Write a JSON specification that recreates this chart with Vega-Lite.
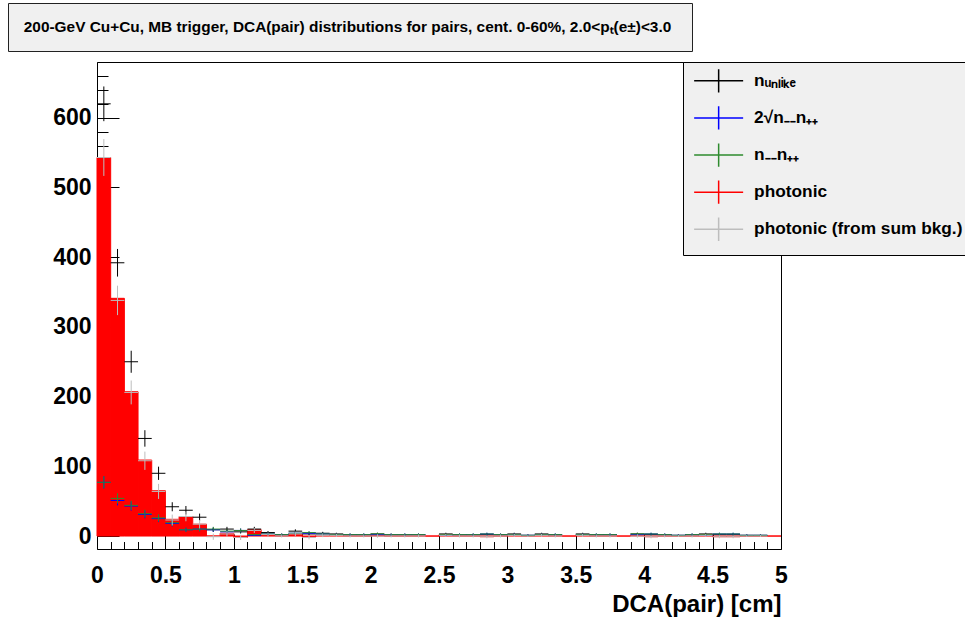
{
  "$schema": "https://vega.github.io/schema/vega-lite/v6.json",
  "width": 684,
  "height": 487,
  "autosize": {"type": "none"},
  "padding": {"left": 97, "top": 62, "right": 184, "bottom": 69},
  "background": "white",
  "config": {"view": {"stroke": "#000", "strokeWidth": 1}, "font": "Liberation Sans"},
  "datasets": {
    "photo": [
      {"x":0.05,"v":543},{"x":0.15,"v":341},{"x":0.25,"v":207},{"x":0.35,"v":109},{"x":0.45,"v":65},
      {"x":0.55,"v":24},{"x":0.65,"v":28},{"x":0.75,"v":17},{"x":0.85,"v":0},{"x":0.95,"v":4},
      {"x":1.05,"v":-2},{"x":1.15,"v":9},{"x":1.25,"v":2},{"x":1.35,"v":0},{"x":1.45,"v":3},
      {"x":1.55,"v":-1},{"x":1.65,"v":1},{"x":1.75,"v":1},{"x":1.85,"v":0},{"x":1.95,"v":0},
      {"x":2.05,"v":1},{"x":2.15,"v":0},{"x":2.25,"v":0},{"x":2.35,"v":0},{"x":2.45,"v":0},
      {"x":2.55,"v":2},{"x":2.65,"v":0},{"x":2.75,"v":0},{"x":2.85,"v":-1},{"x":2.95,"v":0},
      {"x":3.05,"v":1},{"x":3.15,"v":0},{"x":3.25,"v":1},{"x":3.35,"v":0},{"x":3.45,"v":0},
      {"x":3.55,"v":1},{"x":3.65,"v":0},{"x":3.75,"v":0},{"x":3.85,"v":0},{"x":3.95,"v":1},
      {"x":4.05,"v":-1},{"x":4.15,"v":0},{"x":4.25,"v":0},{"x":4.35,"v":0},{"x":4.45,"v":2},
      {"x":4.55,"v":-1},{"x":4.65,"v":-1},{"x":4.75,"v":0},{"x":4.85,"v":0},{"x":4.95,"v":0}
    ],
    "cross": [
      {"s":"U","x":0.05,"v":620,"e":24.9},{"s":"U","x":0.15,"v":392,"e":19.8},{"s":"U","x":0.25,"v":250,"e":15.8},
      {"s":"U","x":0.35,"v":140,"e":11.8},{"s":"U","x":0.45,"v":90,"e":9.5},{"s":"U","x":0.55,"v":42,"e":6.5},
      {"s":"U","x":0.65,"v":37,"e":6.1},{"s":"U","x":0.75,"v":27,"e":5.2},{"s":"U","x":0.85,"v":9,"e":3},
      {"s":"U","x":0.95,"v":10,"e":3.2},{"s":"U","x":1.05,"v":6,"e":2.4},{"s":"U","x":1.15,"v":10,"e":3.2},
      {"s":"U","x":1.25,"v":5,"e":2.2},{"s":"U","x":1.35,"v":2,"e":1.4},{"s":"U","x":1.45,"v":7,"e":2.6},
      {"s":"U","x":1.55,"v":3,"e":1.7},{"s":"U","x":1.65,"v":4,"e":2},{"s":"U","x":1.75,"v":3,"e":1.7},
      {"s":"U","x":1.85,"v":2,"e":1.4},{"s":"U","x":1.95,"v":2,"e":1.4},{"s":"U","x":2.05,"v":3,"e":1.7},
      {"s":"U","x":2.15,"v":2,"e":1.4},{"s":"U","x":2.25,"v":2,"e":1.4},{"s":"U","x":2.35,"v":2,"e":1.4},
      {"s":"U","x":2.55,"v":3,"e":1.7},{"s":"U","x":2.65,"v":2,"e":1.4},{"s":"U","x":2.75,"v":2,"e":1.4},
      {"s":"U","x":2.85,"v":2,"e":1.4},{"s":"U","x":2.95,"v":2,"e":1.4},{"s":"U","x":3.05,"v":3,"e":1.7},
      {"s":"U","x":3.15,"v":1,"e":1},{"s":"U","x":3.25,"v":3,"e":1.7},{"s":"U","x":3.35,"v":2,"e":1.4},
      {"s":"U","x":3.55,"v":3,"e":1.7},{"s":"U","x":3.65,"v":2,"e":1.4},{"s":"U","x":3.75,"v":2,"e":1.4},
      {"s":"U","x":3.95,"v":3,"e":1.7},{"s":"U","x":4.05,"v":2,"e":1.4},{"s":"U","x":4.15,"v":2,"e":1.4},
      {"s":"U","x":4.25,"v":1,"e":1},{"s":"U","x":4.35,"v":2,"e":1.4},{"s":"U","x":4.45,"v":3,"e":1.7},
      {"s":"U","x":4.55,"v":2,"e":1.4},{"s":"U","x":4.65,"v":2,"e":1.4},{"s":"U","x":4.75,"v":1,"e":1},
      {"s":"U","x":4.85,"v":1,"e":1},

      {"s":"B","x":0.05,"v":77,"e":8.8},{"s":"B","x":0.15,"v":51,"e":7.1},{"s":"B","x":0.25,"v":43,"e":6.6},
      {"s":"B","x":0.35,"v":31,"e":5.6},{"s":"B","x":0.45,"v":25,"e":5},{"s":"B","x":0.55,"v":18,"e":4.2},
      {"s":"B","x":0.65,"v":9,"e":3},{"s":"B","x":0.75,"v":10,"e":3.2},{"s":"B","x":0.85,"v":9,"e":3},
      {"s":"B","x":0.95,"v":6,"e":2.4},{"s":"B","x":1.05,"v":8,"e":2.8},{"s":"B","x":1.15,"v":1,"e":1},
      {"s":"B","x":1.25,"v":3,"e":1.7},{"s":"B","x":1.35,"v":2,"e":1.4},{"s":"B","x":1.45,"v":4,"e":2},
      {"s":"B","x":1.55,"v":4,"e":2},{"s":"B","x":1.65,"v":3,"e":1.7},{"s":"B","x":1.75,"v":2,"e":1.4},
      {"s":"B","x":1.85,"v":2,"e":1.4},{"s":"B","x":1.95,"v":2,"e":1.4},{"s":"B","x":2.05,"v":2,"e":1.4},
      {"s":"B","x":2.15,"v":2,"e":1.4},{"s":"B","x":2.25,"v":2,"e":1.4},{"s":"B","x":2.35,"v":2,"e":1.4},
      {"s":"B","x":2.55,"v":1,"e":1},{"s":"B","x":2.65,"v":2,"e":1.4},{"s":"B","x":2.75,"v":2,"e":1.4},
      {"s":"B","x":2.85,"v":3,"e":1.7},{"s":"B","x":2.95,"v":2,"e":1.4},{"s":"B","x":3.05,"v":2,"e":1.4},
      {"s":"B","x":3.15,"v":1,"e":1},{"s":"B","x":3.25,"v":2,"e":1.4},{"s":"B","x":3.35,"v":2,"e":1.4},
      {"s":"B","x":3.55,"v":2,"e":1.4},{"s":"B","x":3.65,"v":2,"e":1.4},{"s":"B","x":3.75,"v":2,"e":1.4},
      {"s":"B","x":3.95,"v":2,"e":1.4},{"s":"B","x":4.05,"v":3,"e":1.7},{"s":"B","x":4.15,"v":2,"e":1.4},
      {"s":"B","x":4.25,"v":1,"e":1},{"s":"B","x":4.35,"v":2,"e":1.4},{"s":"B","x":4.45,"v":1,"e":1},
      {"s":"B","x":4.55,"v":3,"e":1.7},{"s":"B","x":4.65,"v":3,"e":1.7},{"s":"B","x":4.75,"v":1,"e":1},
      {"s":"B","x":4.85,"v":1,"e":1},

      {"s":"G","x":0.05,"v":77,"e":8.8},{"s":"G","x":0.15,"v":54,"e":7.3},{"s":"G","x":0.25,"v":44,"e":6.6},
      {"s":"G","x":0.35,"v":32,"e":5.7},{"s":"G","x":0.45,"v":26,"e":5.1},{"s":"G","x":0.55,"v":19,"e":4.4},
      {"s":"G","x":0.65,"v":9,"e":3},{"s":"G","x":0.75,"v":10,"e":3.2},{"s":"G","x":0.85,"v":10,"e":3.2},
      {"s":"G","x":0.95,"v":7,"e":2.6},{"s":"G","x":1.05,"v":8,"e":2.8},{"s":"G","x":1.15,"v":2,"e":1.4},
      {"s":"G","x":1.25,"v":3,"e":1.7},{"s":"G","x":1.35,"v":2,"e":1.4},{"s":"G","x":1.45,"v":4,"e":2},
      {"s":"G","x":1.55,"v":5,"e":2.2},{"s":"G","x":1.65,"v":3,"e":1.7},{"s":"G","x":1.75,"v":2,"e":1.4},
      {"s":"G","x":1.85,"v":2,"e":1.4},{"s":"G","x":1.95,"v":2,"e":1.4},{"s":"G","x":2.05,"v":3,"e":1.7},
      {"s":"G","x":2.15,"v":2,"e":1.4},{"s":"G","x":2.25,"v":2,"e":1.4},{"s":"G","x":2.35,"v":2,"e":1.4},
      {"s":"G","x":2.55,"v":2,"e":1.4},{"s":"G","x":2.65,"v":2,"e":1.4},{"s":"G","x":2.75,"v":2,"e":1.4},
      {"s":"G","x":2.85,"v":3,"e":1.7},{"s":"G","x":2.95,"v":2,"e":1.4},{"s":"G","x":3.05,"v":2,"e":1.4},
      {"s":"G","x":3.15,"v":1,"e":1},{"s":"G","x":3.25,"v":2,"e":1.4},{"s":"G","x":3.35,"v":2,"e":1.4},
      {"s":"G","x":3.55,"v":2,"e":1.4},{"s":"G","x":3.65,"v":2,"e":1.4},{"s":"G","x":3.75,"v":2,"e":1.4},
      {"s":"G","x":3.95,"v":3,"e":1.7},{"s":"G","x":4.05,"v":3,"e":1.7},{"s":"G","x":4.15,"v":2,"e":1.4},
      {"s":"G","x":4.25,"v":1,"e":1},{"s":"G","x":4.35,"v":2,"e":1.4},{"s":"G","x":4.45,"v":2,"e":1.4},
      {"s":"G","x":4.55,"v":3,"e":1.7},{"s":"G","x":4.65,"v":3,"e":1.7},{"s":"G","x":4.75,"v":1,"e":1},
      {"s":"G","x":4.85,"v":1,"e":1},

      {"s":"S","x":0.05,"v":543,"e":26.4},{"s":"S","x":0.15,"v":338,"e":21.1},{"s":"S","x":0.25,"v":206,"e":17.1},
      {"s":"S","x":0.35,"v":108,"e":13.1},{"s":"S","x":0.45,"v":64,"e":10.8},{"s":"S","x":0.55,"v":23,"e":7.8},
      {"s":"S","x":0.65,"v":28,"e":6.8},{"s":"S","x":0.75,"v":17,"e":6.1},{"s":"S","x":0.85,"v":-1,"e":4.4},
      {"s":"S","x":0.95,"v":3,"e":4.1},{"s":"S","x":1.05,"v":-2,"e":3.7},{"s":"S","x":1.15,"v":8,"e":3.5},
      {"s":"S","x":1.25,"v":2,"e":2.8},{"s":"S","x":1.35,"v":0,"e":2},{"s":"S","x":1.45,"v":3,"e":3.3},
      {"s":"S","x":1.55,"v":-2,"e":2.8},{"s":"S","x":1.65,"v":1,"e":2.6},{"s":"S","x":1.75,"v":1,"e":2.2},
      {"s":"S","x":1.85,"v":0,"e":2},{"s":"S","x":1.95,"v":0,"e":2},{"s":"S","x":2.05,"v":0,"e":2.4},
      {"s":"S","x":2.15,"v":0,"e":2},{"s":"S","x":2.25,"v":0,"e":2},{"s":"S","x":2.35,"v":0,"e":2},
      {"s":"S","x":2.55,"v":1,"e":2.2},{"s":"S","x":2.65,"v":0,"e":2},{"s":"S","x":2.75,"v":0,"e":2},
      {"s":"S","x":2.85,"v":-1,"e":2.2},{"s":"S","x":2.95,"v":0,"e":2},{"s":"S","x":3.05,"v":1,"e":2.2},
      {"s":"S","x":3.15,"v":0,"e":1.4},{"s":"S","x":3.25,"v":1,"e":2.2},{"s":"S","x":3.35,"v":0,"e":2},
      {"s":"S","x":3.55,"v":1,"e":2.2},{"s":"S","x":3.65,"v":0,"e":2},{"s":"S","x":3.75,"v":0,"e":2},
      {"s":"S","x":3.95,"v":0,"e":2.4},{"s":"S","x":4.05,"v":-1,"e":2.2},{"s":"S","x":4.15,"v":0,"e":2},
      {"s":"S","x":4.25,"v":0,"e":1.4},{"s":"S","x":4.35,"v":0,"e":2},{"s":"S","x":4.45,"v":1,"e":2.2},
      {"s":"S","x":4.55,"v":-1,"e":2.2},{"s":"S","x":4.65,"v":-1,"e":2.2},{"s":"S","x":4.75,"v":0,"e":1.4},
      {"s":"S","x":4.85,"v":0,"e":1.4}
    ]
  },
  "layer": [
    {
      "data": {"name": "photo"},
      "transform": [{"bin": {"step": 0.1, "extent": [0, 5], "nice": false}, "field": "x", "as": ["x0", "x1"]}],
      "mark": {"type": "bar", "color": "#ff0000", "stroke": "#ff0000", "strokeWidth": 1},
      "encoding": {
        "x": {
          "field": "x0", "type": "quantitative",
          "scale": {"domain": [0, 5], "nice": false, "zero": false},
          "axis": {
            "values": [0,0.1,0.2,0.3,0.4,0.5,0.6,0.7,0.8,0.9,1,1.1,1.2,1.3,1.4,1.5,1.6,1.7,1.8,1.9,2,2.1,2.2,2.3,2.4,2.5,2.6,2.7,2.8,2.9,3,3.1,3.2,3.3,3.4,3.5,3.6,3.7,3.8,3.9,4,4.1,4.2,4.3,4.4,4.5,4.6,4.7,4.8,4.9,5],
            "labelExpr": "round(datum.value*10) % 5 == 0 ? format(datum.value, '~g') : ''",
            "tickSize": {"condition": {"test": "round(datum.value*10) % 5 == 0", "value": -15}, "value": -7.5},
            "tickColor": "#000", "tickWidth": 1, "domain": false, "grid": false,
            "labelFont": "Liberation Sans", "labelFontSize": 23, "labelFontWeight": "bold", "labelColor": "#000",
            "labelPadding": 30.5, "labelFlush": false, "labelOverlap": false,
            "title": "DCA(pair) [cm]", "titleFont": "Liberation Sans", "titleFontSize": 24, "titleFontWeight": "bold",
            "titleColor": "#000", "titleAnchor": "end", "titlePadding": -2.5
          }
        },
        "x2": {"field": "x1"},
        "y": {
          "field": "v", "type": "quantitative",
          "scale": {"domain": [-18.6, 680], "nice": false, "zero": false},
          "axis": {
            "values": [0,20,40,60,80,100,120,140,160,180,200,220,240,260,280,300,320,340,360,380,400,420,440,460,480,500,520,540,560,580,600,620,640,660,680],
            "labelExpr": "datum.value % 100 == 0 ? datum.label : ''",
            "tickSize": {"condition": {"test": "datum.value % 100 == 0", "value": -22}, "value": -11},
            "tickColor": "#000", "tickWidth": 1, "domain": false, "grid": false,
            "labelFont": "Liberation Sans", "labelFontSize": 23, "labelFontWeight": "bold", "labelColor": "#000",
            "labelPadding": 28, "labelOverlap": false, "labelFlush": false, "title": null
          }
        },
        "y2": {"datum": 0}
      }
    },
    {
      "data": {"name": "cross"},
      "transform": [{"bin": {"step": 0.1, "extent": [0, 5], "nice": false}, "field": "x", "as": ["x0", "x1"]}],
      "mark": {"type": "rule", "strokeWidth": 1},
      "encoding": {
        "x": {
          "field": "x0", "type": "quantitative",
          "axis": {
            "values": [0,0.1,0.2,0.3,0.4,0.5,0.6,0.7,0.8,0.9,1,1.1,1.2,1.3,1.4,1.5,1.6,1.7,1.8,1.9,2,2.1,2.2,2.3,2.4,2.5,2.6,2.7,2.8,2.9,3,3.1,3.2,3.3,3.4,3.5,3.6,3.7,3.8,3.9,4,4.1,4.2,4.3,4.4,4.5,4.6,4.7,4.8,4.9,5],
            "labelExpr": "round(datum.value*10) % 5 == 0 ? format(datum.value, '~g') : ''",
            "tickSize": {"condition": {"test": "round(datum.value*10) % 5 == 0", "value": -15}, "value": -7.5},
            "tickColor": "#000", "tickWidth": 1, "domain": false, "grid": false,
            "labelFont": "Liberation Sans", "labelFontSize": 23, "labelFontWeight": "bold", "labelColor": "#000",
            "labelPadding": 30.5, "labelFlush": false, "labelOverlap": false,
            "title": "DCA(pair) [cm]", "titleFont": "Liberation Sans", "titleFontSize": 24, "titleFontWeight": "bold",
            "titleColor": "#000", "titleAnchor": "end", "titlePadding": -2.5
          }
        },
        "x2": {"field": "x1"},
        "y": {
          "field": "v", "type": "quantitative",
          "axis": {
            "values": [0,20,40,60,80,100,120,140,160,180,200,220,240,260,280,300,320,340,360,380,400,420,440,460,480,500,520,540,560,580,600,620,640,660,680],
            "labelExpr": "datum.value % 100 == 0 ? datum.label : ''",
            "tickSize": {"condition": {"test": "datum.value % 100 == 0", "value": -22}, "value": -11},
            "tickColor": "#000", "tickWidth": 1, "domain": false, "grid": false,
            "labelFont": "Liberation Sans", "labelFontSize": 23, "labelFontWeight": "bold", "labelColor": "#000",
            "labelPadding": 28, "labelOverlap": false, "labelFlush": false, "title": null
          }
        },
        "color": {
          "field": "s", "type": "nominal",
          "scale": {"domain": ["U", "B", "G", "P", "S"], "range": ["#000000", "#0000ff", "#2e8b2e", "#ff0000", "#bdbdbd"]},
          "legend": {
            "orient": "none", "legendX": 586, "legendY": 0, "title": null,
            "fillColor": "#f0f0f0", "strokeColor": "#000", "padding": 10.2,
            "symbolType": "M-4,0H4M0,-1.9V1.9", "symbolSize": 150, "symbolStrokeWidth": 1.5,
            "symbolOffset": 16.8, "symbolFillColor": "transparent",
            "labelOffset": 26.8, "labelFont": "Liberation Sans", "labelFontSize": 17.3, "labelFontWeight": "bold",
            "labelColor": "#000", "labelLimit": 1000, "rowPadding": 7.1,
            "labelExpr": "datum.value == 'U' ? 'nᵤₙₗᵢₖₑ' : datum.value == 'B' ? '2√n₋₋n₊₊' : datum.value == 'G' ? 'n₋₋n₊₊' : datum.value == 'P' ? 'photonic' : 'photonic (from sum bkg.)'"
          }
        }
      }
    },
    {
      "data": {"name": "cross"},
      "mark": {"type": "errorbar", "thickness": 1},
      "encoding": {
        "x": {
          "field": "x", "type": "quantitative",
          "axis": {
            "values": [0,0.1,0.2,0.3,0.4,0.5,0.6,0.7,0.8,0.9,1,1.1,1.2,1.3,1.4,1.5,1.6,1.7,1.8,1.9,2,2.1,2.2,2.3,2.4,2.5,2.6,2.7,2.8,2.9,3,3.1,3.2,3.3,3.4,3.5,3.6,3.7,3.8,3.9,4,4.1,4.2,4.3,4.4,4.5,4.6,4.7,4.8,4.9,5],
            "labelExpr": "round(datum.value*10) % 5 == 0 ? format(datum.value, '~g') : ''",
            "tickSize": {"condition": {"test": "round(datum.value*10) % 5 == 0", "value": -15}, "value": -7.5},
            "tickColor": "#000", "tickWidth": 1, "domain": false, "grid": false,
            "labelFont": "Liberation Sans", "labelFontSize": 23, "labelFontWeight": "bold", "labelColor": "#000",
            "labelPadding": 30.5, "labelFlush": false, "labelOverlap": false,
            "title": "DCA(pair) [cm]", "titleFont": "Liberation Sans", "titleFontSize": 24, "titleFontWeight": "bold",
            "titleColor": "#000", "titleAnchor": "end", "titlePadding": -2.5
          }
        },
        "y": {
          "field": "v", "type": "quantitative",
          "axis": {
            "values": [0,20,40,60,80,100,120,140,160,180,200,220,240,260,280,300,320,340,360,380,400,420,440,460,480,500,520,540,560,580,600,620,640,660,680],
            "labelExpr": "datum.value % 100 == 0 ? datum.label : ''",
            "tickSize": {"condition": {"test": "datum.value % 100 == 0", "value": -22}, "value": -11},
            "tickColor": "#000", "tickWidth": 1, "domain": false, "grid": false,
            "labelFont": "Liberation Sans", "labelFontSize": 23, "labelFontWeight": "bold", "labelColor": "#000",
            "labelPadding": 28, "labelOverlap": false, "labelFlush": false, "title": null
          }
        },
        "yError": {"field": "e"},
        "color": {"field": "s", "type": "nominal"}
      }
    },
    {
      "data": {"values": [{"t": "200-GeV Cu+Cu, MB trigger, DCA(pair) distributions for pairs, cent.  0-60%, 2.0<pₜ(e±)<3.0"}]},
      "mark": {"type": "point", "opacity": 0},
      "encoding": {
        "shape": {
          "field": "t", "type": "nominal",
          "legend": {
            "orient": "none", "legendX": -89, "legendY": -59, "title": null,
            "fillColor": "#f0f0f0", "strokeColor": "#222", "padding": 15.8,
            "symbolSize": 0, "symbolOpacity": 0, "symbolStrokeWidth": 0, "labelOffset": -15.4,
            "labelFont": "Liberation Sans", "labelFontSize": 15.4, "labelFontWeight": "bold",
            "labelColor": "#000", "labelLimit": 1000
          }
        }
      }
    }
  ]
}
